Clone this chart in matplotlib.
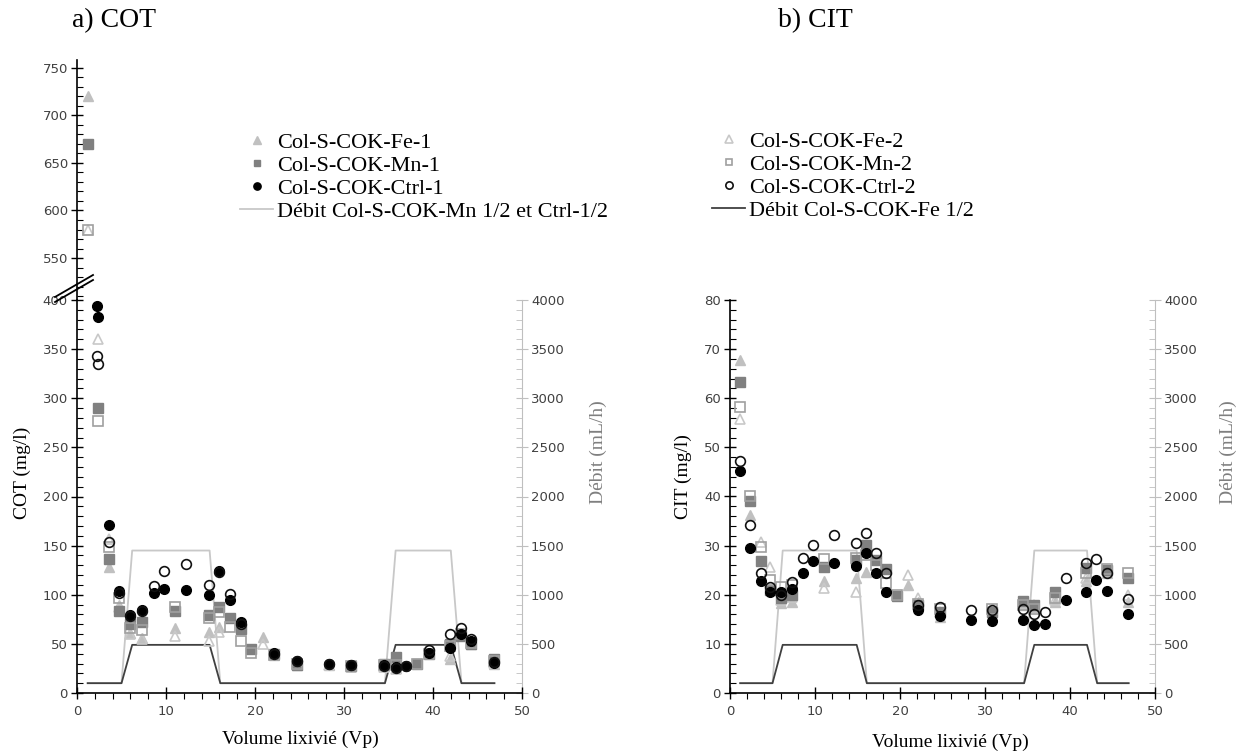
import numpy as np
import matplotlib
matplotlib.use("Agg")
import matplotlib.pyplot as plt
from matplotlib.lines import Line2D
from matplotlib.ticker import MultipleLocator

nan = np.nan

# ---------------- data ----------------
vp = [1.2, 2.4, 3.6, 4.7, 6.0, 7.3, 8.6, 9.8, 11.0, 12.2, 14.8, 16.0, 17.2, 18.4, 19.6,
      20.9, 22.1, 24.7, 28.3, 30.8, 34.5, 35.8, 37.0, 38.2, 39.5, 41.9, 43.1, 44.3, 46.8]
vp_cot_ctrl = [2.3] + vp[1:]

cot_fe1 = [720, nan, 128, 90, 61, 56, nan, nan, 66, nan, 62, 67, nan, nan, nan,
           57, 39, 29, 29, 27, 27, 25, nan, nan, nan, 35, nan, 50, 30]
cot_fe2 = [580, 360, 157, 88, 60, 55, nan, nan, 58, nan, 53, 62, nan, nan, nan,
           50, 39, 30, 29, 26, 26, 24, nan, nan, nan, 38, nan, 51, 31]
cot_mn1 = [670, 290, 136, 83, 70, 72, nan, nan, 83, nan, 79, 88, 76, 65, 45,
           nan, 40, 28, nan, 27, 30, 37, nan, 30, 40, 50, 58, 50, 35]
cot_mn2 = [580, 277, 149, 97, 66, 64, nan, nan, 88, nan, 76, 82, 67, 53, 41,
           nan, 39, 30, nan, 27, 28, 28, nan, 30, 40, 48, 60, 51, 33]
cot_ctrl1 = [394, 383, 171, 104, 79, 84, 102, 106, nan, 105, 100, 124, 95, 72, nan,
             nan, 41, 33, 30, 28, 28, 26, 27, nan, 41, 46, 60, 53, 31]
cot_ctrl2 = [343, 335, 154, 102, 78, 83, 109, 124, nan, 131, 110, 123, 101, 70, nan,
             nan, 40, 33, 30, 28, 27, 25, 27, nan, 44, 60, 66, 55, 32]

cit_fe1 = [67.7, 36.3, nan, nan, 18.3, 18.6, nan, nan, 22.7, nan, 23.4, 24.7, nan, nan, nan,
           22.0, 18.5, 15.5, nan, nan, 18.0, 17.5, nan, 18.5, nan, 22.7, nan, 24.5, 18.5]
cit_fe2 = [55.7, nan, 30.8, 25.7, 19.0, 19.5, nan, nan, 21.3, nan, 20.6, nan, nan, nan, nan,
           24.0, 19.3, 16.5, nan, nan, 18.5, 18.0, nan, 19.0, nan, 23.5, nan, 25.0, 20.0]
cit_mn1 = [63.4, 39.0, 26.9, 21.0, 19.3, 20.0, nan, nan, 25.7, nan, 27.0, 30.1, 27.0, 25.2, 19.8,
           nan, 18.0, 16.5, nan, 16.5, 18.8, 17.9, nan, 20.6, nan, 25.5, nan, 25.0, 23.4]
cit_mn2 = [58.2, 40.1, 29.8, 23.1, 21.5, 22.0, nan, nan, 27.2, nan, 27.5, 28.0, 26.0, 22.3, 20.0,
           nan, 18.2, 17.0, nan, 17.0, 18.0, 17.0, nan, 19.3, nan, 24.4, nan, 25.3, 24.4]
cit_ctrl1 = [45.1, 29.5, 22.9, 20.5, 20.6, 21.1, 24.4, 26.9, nan, 26.5, 25.9, 28.6, 24.5, 20.6, nan,
             nan, 16.9, 15.6, 14.9, 14.7, 14.9, 13.9, 14.1, nan, 18.9, 20.5, 23.0, 20.8, 16.0]
cit_ctrl2 = [47.3, 34.2, 24.4, 21.5, 20.0, 22.5, 27.4, 30.1, nan, 32.2, 30.5, 32.5, 28.4, 24.4, nan,
             nan, 17.9, 17.5, 16.8, 16.9, 17.0, 16.0, 16.4, nan, 23.4, 26.5, 27.2, 24.4, 19.1]

flow_vp = [1.2, 5.0, 6.2, 14.9, 16.1, 34.6, 35.8, 42.0, 43.2, 46.9]
flow_mn_ctrl = [100, 100, 1450, 1450, 100, 100, 1450, 1450, 100, 100]
flow_fe = [100, 100, 490, 490, 100, 100, 490, 490, 100, 100]

lab_fe1, lab_mn1, lab_ctrl1 = "Col-S-COK-Fe-1", "Col-S-COK-Mn-1", "Col-S-COK-Ctrl-1"
lab_fe2, lab_mn2, lab_ctrl2 = "Col-S-COK-Fe-2", "Col-S-COK-Mn-2", "Col-S-COK-Ctrl-2"
lab_flow_mn = "Débit Col-S-COK-Mn 1/2 et Ctrl-1/2"
lab_flow_fe = "Débit Col-S-COK-Fe 1/2"

# ---------------- figure ----------------
W, H = 1247, 751
fig = plt.figure(figsize=(W / 100, H / 100), dpi=100)

def fx(x):
    return x / W

def fy(y):
    return 1 - y / H

SERIF = "Liberation Serif"
TICKC = "#404040"
LIGHT = "#c0c0c0"
RIGHTC = "#bfbfbf"

ms = 7
styles = {
    "fe1": dict(marker="^", ms=ms, mfc=LIGHT, mec=LIGHT, mew=1.0),
    "fe2": dict(marker="^", ms=ms, mfc="none", mec="#c8c8c8", mew=1.2),
    "mn1": dict(marker="s", ms=ms - 0.5, mfc="#808080", mec="#808080", mew=1.0),
    "mn2": dict(marker="s", ms=ms - 0.5, mfc="none", mec="#a0a0a0", mew=1.2),
    "ctrl1": dict(marker="o", ms=ms, mfc="black", mec="black", mew=1.0),
    "ctrl2": dict(marker="o", ms=ms, mfc="none", mec="#111111", mew=1.2),
}


def plot_points(ax, x, xc, fe1, fe2, mn1, mn2, c1, c2):
    h = {}
    h["fe1"], = ax.plot(x, fe1, ls="none", **styles["fe1"], zorder=3)
    h["fe2"], = ax.plot(x, fe2, ls="none", **styles["fe2"], zorder=3)
    h["mn1"], = ax.plot(x, mn1, ls="none", **styles["mn1"], zorder=3)
    h["mn2"], = ax.plot(x, mn2, ls="none", **styles["mn2"], zorder=3)
    h["ctrl1"], = ax.plot(xc, c1, ls="none", **styles["ctrl1"], zorder=4)
    h["ctrl2"], = ax.plot(xc, c2, ls="none", **styles["ctrl2"], zorder=4)
    return h


def style_main(ax, ymax, ymajor, yminor):
    ax.set_xlim(0, 50)
    ax.set_ylim(0, ymax)
    ax.xaxis.set_major_locator(MultipleLocator(10))
    ax.xaxis.set_minor_locator(MultipleLocator(2))
    ax.yaxis.set_major_locator(MultipleLocator(ymajor))
    ax.yaxis.set_minor_locator(MultipleLocator(yminor))
    ax.tick_params(axis="y", which="major", direction="inout", length=9, width=1.0,
                   labelsize=9.5, labelcolor=TICKC, pad=2)
    ax.tick_params(axis="y", which="minor", direction="in", length=4, width=0.8)
    ax.tick_params(axis="x", which="major", direction="inout", length=9, width=1.0,
                   labelsize=9.5, labelcolor=TICKC, pad=4)
    ax.tick_params(axis="x", which="minor", direction="out", length=4, width=0.8)
    for s in ("top", "right"):
        ax.spines[s].set_visible(False)
    ax.spines["left"].set_linewidth(1.2)
    ax.spines["bottom"].set_linewidth(1.2)


def style_right(axr):
    axr.set_ylim(0, 4000)
    axr.yaxis.set_major_locator(MultipleLocator(500))
    axr.yaxis.set_minor_locator(MultipleLocator(100))
    for s in ("top", "left", "bottom"):
        axr.spines[s].set_visible(False)
    axr.spines["right"].set_color(RIGHTC)
    axr.tick_params(axis="y", which="major", direction="inout", length=9, color=RIGHTC,
                    labelsize=9.5, labelcolor=TICKC, pad=2)
    axr.tick_params(axis="y", which="minor", direction="in", length=4, color=RIGHTC)


# ---------- panel a ----------
axa = fig.add_axes([fx(77), fy(693), fx(522) - fx(77), fy(300) - fy(693)])
axa_r = axa.twinx()
style_main(axa, 400, 50, 10)
style_right(axa_r)
la_mn, = axa_r.plot(flow_vp, flow_mn_ctrl, color="#c8c8c8", lw=1.3)
la_fe, = axa_r.plot(flow_vp, flow_fe, color="#404040", lw=1.3)
axa.set_zorder(axa_r.get_zorder() + 1)
axa.patch.set_visible(False)
ha = plot_points(axa, vp, vp_cot_ctrl, cot_fe1, cot_fe2, cot_mn1, cot_mn2, cot_ctrl1, cot_ctrl2)

# upper (broken) part of panel a
axu = fig.add_axes([fx(77), fy(300), fx(522) - fx(77), fy(60) - fy(300)])
axu.set_xlim(0, 50)
axu.set_ylim(505.8, 758.4)
axu.yaxis.set_major_locator(MultipleLocator(50))
axu.yaxis.set_minor_locator(MultipleLocator(10))
axu.tick_params(axis="y", which="major", direction="inout", length=9, width=1.0,
                labelsize=9.5, labelcolor=TICKC, pad=2)
axu.tick_params(axis="y", which="minor", direction="in", length=4, width=0.8)
axu.set_xticks([])
for s in ("top", "right", "bottom"):
    axu.spines[s].set_visible(False)
axu.spines["left"].set_linewidth(1.2)
axu.patch.set_visible(False)
plot_points(axu, vp, vp_cot_ctrl, cot_fe1, cot_fe2, cot_mn1, cot_mn2, cot_ctrl1, cot_ctrl2)

# break marks
for dy in (0, -5):
    fig.add_artist(Line2D([fx(55), fx(93)], [fy(302 + dy), fy(280 + dy)],
                          color="black", lw=1.3))

# ---------- panel b ----------
axb = fig.add_axes([fx(730), fy(693), fx(1155) - fx(730), fy(300) - fy(693)])
axb_r = axb.twinx()
style_main(axb, 80, 10, 2)
style_right(axb_r)
axb_r.plot(flow_vp, flow_mn_ctrl, color="#c8c8c8", lw=1.3)
axb_r.plot(flow_vp, flow_fe, color="#404040", lw=1.3)
axb.set_zorder(axb_r.get_zorder() + 1)
axb.patch.set_visible(False)
hb = plot_points(axb, vp, vp, cit_fe1, cit_fe2, cit_mn1, cit_mn2, cit_ctrl1, cit_ctrl2)

# ---------- texts ----------
fig.text(fx(72), fy(21), "a) COT", family=SERIF, fontsize=20, va="center", ha="left")
fig.text(fx(778), fy(21), "b) CIT", family=SERIF, fontsize=20, va="center", ha="left")

fig.text(fx(22), fy(473), "COT (mg/l)", family=SERIF, fontsize=14, rotation=90,
         va="center", ha="center")
fig.text(fx(683), fy(477), "CIT (mg/l)", family=SERIF, fontsize=14, rotation=90,
         va="center", ha="center")
fig.text(fx(598), fy(452), "Débit (mL/h)", family=SERIF, fontsize=14, rotation=90,
         va="center", ha="center", color="#7f7f7f")
fig.text(fx(1228), fy(452), "Débit (mL/h)", family=SERIF, fontsize=14, rotation=90,
         va="center", ha="center", color="#7f7f7f")
fig.text(fx(300), fy(739), "Volume lixivié (Vp)", family=SERIF, fontsize=14,
         va="center", ha="center")
fig.text(fx(950), fy(742), "Volume lixivié (Vp)", family=SERIF, fontsize=14,
         va="center", ha="center")

leg_kw = dict(frameon=False, handlelength=1.5, handletextpad=0.15, labelspacing=0.12,
              borderpad=0, borderaxespad=0, markerscale=0.75,
              prop={"family": SERIF, "size": 16}, loc="upper left")
fig.legend([ha["fe1"], ha["mn1"], ha["ctrl1"], la_mn],
           [lab_fe1, lab_mn1, lab_ctrl1, lab_flow_mn],
           bbox_to_anchor=(fx(240), fy(132)), **leg_kw)
fig.legend([hb["fe2"], hb["mn2"], hb["ctrl2"], la_fe],
           [lab_fe2, lab_mn2, lab_ctrl2, lab_flow_fe],
           bbox_to_anchor=(fx(712), fy(131)), **leg_kw)

fig.savefig("out.png", dpi=100)
